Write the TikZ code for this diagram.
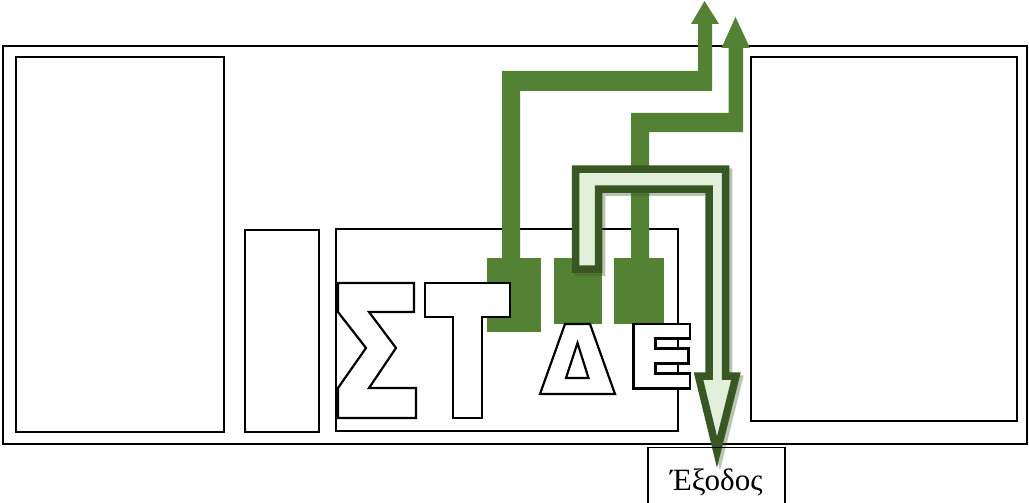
\documentclass[tikz,border=0pt]{standalone}
\usepackage{fontspec}
\setmainfont{Liberation Serif}
\definecolor{leaf}{HTML}{548235}
\definecolor{leafdark}{HTML}{385723}
\definecolor{leaflight}{HTML}{E2EFDA}
\tikzset{
  frame/.style={draw=black,line width=1.8},
  flow/.style={fill=leaf},
  exitflow/.style={draw=leafdark,fill=leaflight,line width=7.5,line join=miter},
  exitshadow/.style={fill=leafdark,draw=leafdark,line width=7.5,opacity=.35},
  letter/.style={draw=black,fill=white,line width=2.2,line join=miter}
}
\begin{document}
\begin{tikzpicture}[x=1pt,y=-1pt]
   \useasboundingbox (0,0) rectangle (1029,503);

   % rooms
   \draw[frame] (3,46) rectangle (1027,444);
   \draw[frame] (16,57) rectangle (224,432);
   \draw[frame] (245,230) rectangle (319,432);
   \draw[frame] (336,229) rectangle (678,431);
   \draw[frame] (751,57) rectangle (1017,421);

   % green flows out
   \fill[flow] (502,258) -- (502,71) -- (698,71) -- (698,24) -- (691,24)
      -- (704.5,1) -- (719,24) -- (712,24) -- (712,91) -- (520,91) -- (520,258) -- cycle;
   \fill[flow] (631,258) -- (631,113) -- (728.5,113) -- (728.5,48) -- (721.5,48)
      -- (735.5,17) -- (750,48) -- (743,48) -- (743,132) -- (649,132) -- (649,258) -- cycle;

   \fill[flow] (487,258) rectangle (541,332);
   \fill[flow] (554,258) rectangle (602,324);
   \fill[flow] (614,258) rectangle (664,324);

   % exit flow
   \begin{scope}[shift={(3,3)}]
   \path[exitshadow] (575.5,269) -- (575.5,169) -- (725.5,169) -- (725.5,376) -- (736,376)
      -- (717,452) -- (698.5,376) -- (709,376) -- (709,189) -- (598.5,189) -- (598.5,269) -- cycle;
   \end{scope}
   \path[exitflow] (575.5,269) -- (575.5,169) -- (725.5,169) -- (725.5,376) -- (736,376)
      -- (717,452) -- (698.5,376) -- (709,376) -- (709,189) -- (598.5,189) -- (598.5,269) -- cycle;

   % letters
   \draw[letter] (338,283) -- (414,283) -- (414,312) -- (369,312) -- (396,348) -- (369,388)
      -- (416,388) -- (416,418) -- (338,418) -- (338,388) -- (366,348) -- (338,312) -- cycle;
   \draw[letter] (425,283) -- (510,283) -- (510,317) -- (482,317) -- (482,418) -- (453,418)
      -- (453,317) -- (425,317) -- cycle;
   \draw[letter] (565,324) -- (590,324) -- (615,394) -- (540,394) -- cycle;
   \draw[letter] (577.5,343) -- (588.5,378) -- (566,378) -- cycle;
   \draw[letter] (633.5,324) -- (690,324) -- (690,338.5) -- (655.5,338.5) -- (655.5,348.5)
      -- (688.5,348.5) -- (688.5,363.5) -- (655.5,363.5) -- (655.5,373.5) -- (690,373.5)
      -- (690,388.5) -- (633.5,388.5) -- cycle;

   % exit
   \draw[frame] (648,447.5) rectangle (785,520);
   \node[anchor=base,font=\fontsize{31}{35}\selectfont,inner sep=0] (exit) at (716.5,490) {Έξοδος};
\end{tikzpicture}
\end{document}
